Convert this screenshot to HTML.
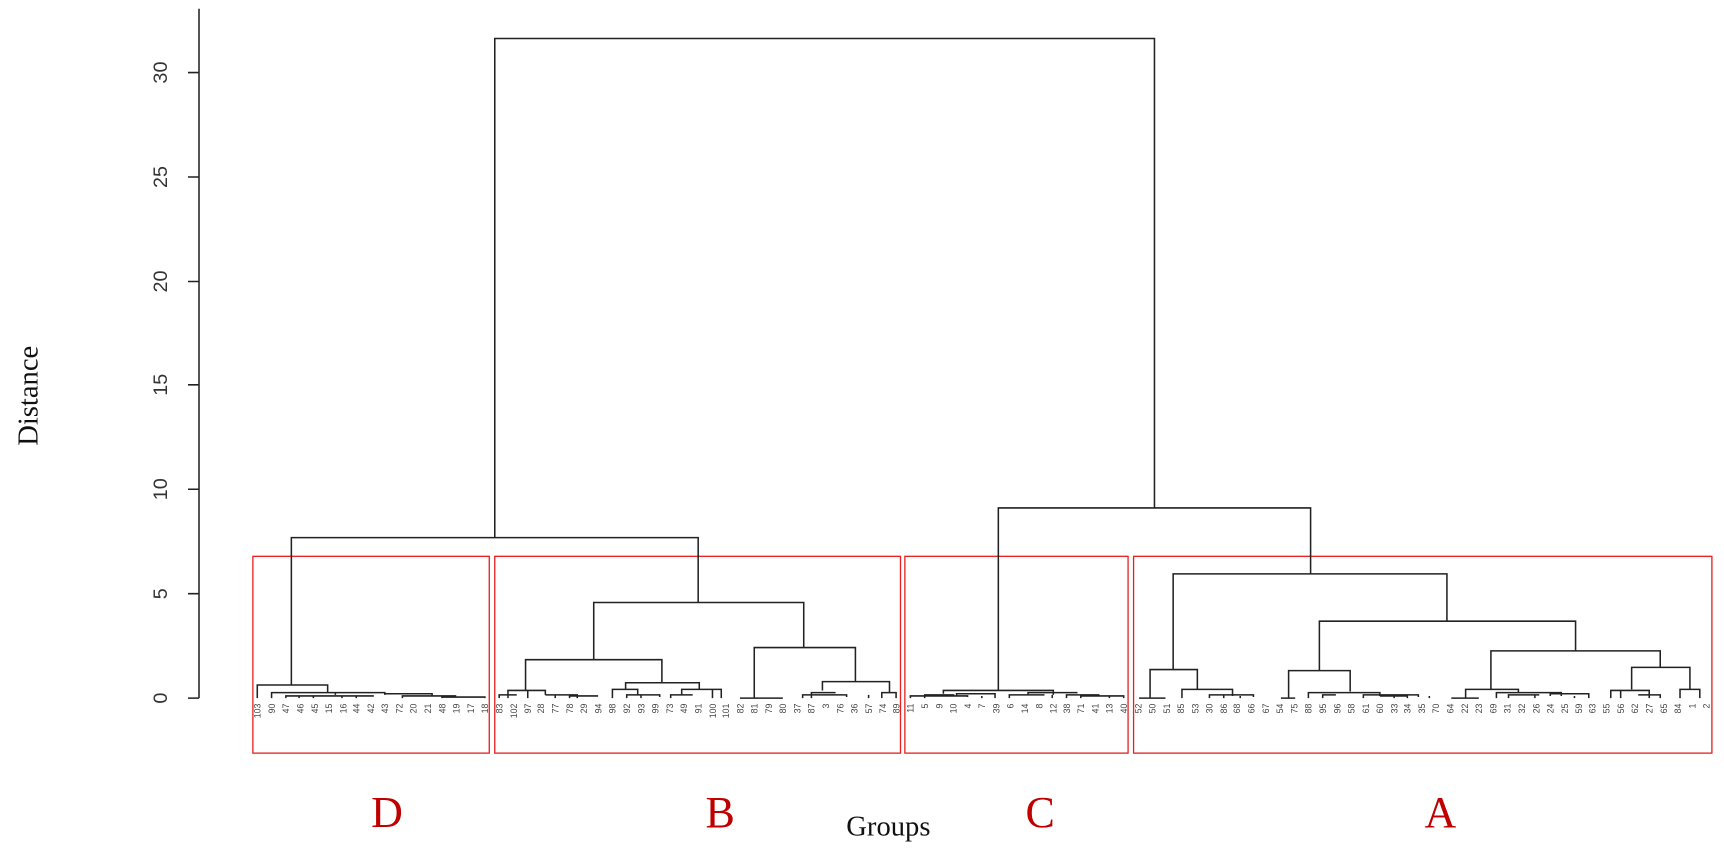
<!DOCTYPE html>
<html><head><meta charset="utf-8"><style>
html,body{margin:0;padding:0;background:#fff;}
svg{display:block;}
.t{stroke:#222;stroke-width:1.4;fill:none;}
.r{stroke:#e82020;stroke-width:1.2;fill:none;}
.lab{font-family:"Liberation Sans",sans-serif;font-size:8px;fill:#444;}
.tk{font-family:"Liberation Sans",sans-serif;font-size:18px;fill:#333;}
.g{font-family:"Liberation Serif",serif;font-size:40px;fill:#c00000;}
</style></head><body>
<svg width="1724" height="859" viewBox="0 0 1568 781.3" preserveAspectRatio="none" xmlns="http://www.w3.org/2000/svg">
<path class="t" d="M181 8V635 M171 635H181 M171 540H181 M171 445H181 M171 350H181 M171 256H181 M171 161H181 M171 66H181"/>
<g class="tk" text-anchor="middle">
<text transform="translate(152,635) rotate(-90)">0</text>
<text transform="translate(152,540) rotate(-90)">5</text>
<text transform="translate(152,445) rotate(-90)">10</text>
<text transform="translate(152,350) rotate(-90)">15</text>
<text transform="translate(152,256) rotate(-90)">20</text>
<text transform="translate(152,161) rotate(-90)">25</text>
<text transform="translate(152,66) rotate(-90)">30</text>
</g>
<text transform="translate(34,360) rotate(-90)" text-anchor="middle" style="font-family:'Liberation Serif',serif;font-size:26px;fill:#111">Distance</text>
<text x="808" y="760" text-anchor="middle" style="font-family:'Liberation Serif',serif;font-size:26px;fill:#111">Groups</text>
<g class="g" text-anchor="middle">
<text x="352" y="752">D</text><text x="655" y="752">B</text><text x="946" y="752">C</text><text x="1310" y="752">A</text>
</g>
<rect class="r" x="230" y="506" width="215" height="179"/>
<rect class="r" x="450" y="506" width="369" height="179"/>
<rect class="r" x="823" y="506" width="203" height="179"/>
<rect class="r" x="1031" y="506" width="526" height="179"/>
<path class="t" d="M450 489V35H1050V462"/>
<path class="t" d="M265 623V489H635V548"/>
<path class="t" d="M908 628V462H1192V522"/>
<path class="t" d="M234 635V623H298V630 M247 635V630H350V632 M260 635V633H340 M305 632V630 M350 632V631H393V633 M366 635V633H415 M402 635V634H441V635 M272 635V633 M285 635V633 M311 635V633 M324 635V633"/>
<path class="t" d="M540 600V548H731V589"/>
<path class="t" d="M478 628V600H602V621"/>
<path class="t" d="M462 635V628H496V632 M454 635V632H470 M480 635V628 M496 632H525V635 M505 635V632 M518 635V633H544"/>
<path class="t" d="M569 627V621H636V627 M557 635V627H580V632 M570 635V632H600V634 M583 635V632 M610 635V632H630 M620 632V627H656V635 M648 635V627"/>
<path class="t" d="M686 635V589H778V620 M673 635H712 M748 628V620H809V630 M730 635V632H770V634 M738 635V630H760 M790 635V632 M802 635V630H815V635"/>
<path class="t" d="M858 631V628H958V632 M828 635V633H880V634 M841 635V632H868 M870 633V631H905V634 M893 635V633 M905 635V634 M935 632V630H980 M918 635V632H950 M957 635V632 M970 635V632H1000 M983 635V633H1022V635 M1009 635V633"/>
<path class="t" d="M1067 609V522H1316V565"/>
<path class="t" d="M1046 635V609H1089V627 M1036 635H1060 M1075 635V627H1121V633 M1100 635V632H1140V634 M1113 635V632 M1128 635V633"/>
<path class="t" d="M1200 610V565H1433V592"/>
<path class="t" d="M1172 635V610H1228V629 M1165 635H1178 M1190 635V630H1255V633 M1203 635V632H1215 M1240 635V632H1290V634 M1255 633H1280V635 M1268 635V632 M1300 635V633"/>
<path class="t" d="M1356 627V592H1510V607"/>
<path class="t" d="M1333 635V627H1381V630 M1320 635H1345 M1361 635V630H1420V633 M1372 635V632H1400 M1410 633V631H1445V635 M1396 635V632 M1432 635V633"/>
<path class="t" d="M1484 627V607H1537V627 M1465 635V628H1500V632 M1474 635V628 M1490 632H1510V635 M1500 635V632 M1528 635V627H1546V635"/>
<g class="lab" text-anchor="end">
<text transform="translate(237,640) rotate(-90)">103</text>
<text transform="translate(250,640) rotate(-90)">90</text>
<text transform="translate(263,640) rotate(-90)">47</text>
<text transform="translate(276,640) rotate(-90)">46</text>
<text transform="translate(289,640) rotate(-90)">45</text>
<text transform="translate(302,640) rotate(-90)">15</text>
<text transform="translate(315,640) rotate(-90)">16</text>
<text transform="translate(327,640) rotate(-90)">44</text>
<text transform="translate(340,640) rotate(-90)">42</text>
<text transform="translate(353,640) rotate(-90)">43</text>
<text transform="translate(366,640) rotate(-90)">72</text>
<text transform="translate(379,640) rotate(-90)">20</text>
<text transform="translate(392,640) rotate(-90)">21</text>
<text transform="translate(405,640) rotate(-90)">48</text>
<text transform="translate(418,640) rotate(-90)">19</text>
<text transform="translate(431,640) rotate(-90)">17</text>
<text transform="translate(444,640) rotate(-90)">18</text>
<text transform="translate(457,640) rotate(-90)">83</text>
<text transform="translate(470,640) rotate(-90)">102</text>
<text transform="translate(483,640) rotate(-90)">97</text>
<text transform="translate(495,640) rotate(-90)">28</text>
<text transform="translate(508,640) rotate(-90)">77</text>
<text transform="translate(521,640) rotate(-90)">78</text>
<text transform="translate(534,640) rotate(-90)">29</text>
<text transform="translate(547,640) rotate(-90)">94</text>
<text transform="translate(560,640) rotate(-90)">98</text>
<text transform="translate(573,640) rotate(-90)">92</text>
<text transform="translate(586,640) rotate(-90)">93</text>
<text transform="translate(599,640) rotate(-90)">99</text>
<text transform="translate(612,640) rotate(-90)">73</text>
<text transform="translate(625,640) rotate(-90)">49</text>
<text transform="translate(638,640) rotate(-90)">91</text>
<text transform="translate(651,640) rotate(-90)">100</text>
<text transform="translate(663,640) rotate(-90)">101</text>
<text transform="translate(676,640) rotate(-90)">82</text>
<text transform="translate(689,640) rotate(-90)">81</text>
<text transform="translate(702,640) rotate(-90)">79</text>
<text transform="translate(715,640) rotate(-90)">80</text>
<text transform="translate(728,640) rotate(-90)">37</text>
<text transform="translate(741,640) rotate(-90)">87</text>
<text transform="translate(754,640) rotate(-90)">3</text>
<text transform="translate(767,640) rotate(-90)">76</text>
<text transform="translate(780,640) rotate(-90)">36</text>
<text transform="translate(793,640) rotate(-90)">57</text>
<text transform="translate(806,640) rotate(-90)">74</text>
<text transform="translate(818,640) rotate(-90)">89</text>
<text transform="translate(831,640) rotate(-90)">11</text>
<text transform="translate(844,640) rotate(-90)">5</text>
<text transform="translate(857,640) rotate(-90)">9</text>
<text transform="translate(870,640) rotate(-90)">10</text>
<text transform="translate(883,640) rotate(-90)">4</text>
<text transform="translate(896,640) rotate(-90)">7</text>
<text transform="translate(909,640) rotate(-90)">39</text>
<text transform="translate(922,640) rotate(-90)">6</text>
<text transform="translate(935,640) rotate(-90)">14</text>
<text transform="translate(948,640) rotate(-90)">8</text>
<text transform="translate(961,640) rotate(-90)">12</text>
<text transform="translate(973,640) rotate(-90)">38</text>
<text transform="translate(986,640) rotate(-90)">71</text>
<text transform="translate(999,640) rotate(-90)">41</text>
<text transform="translate(1012,640) rotate(-90)">13</text>
<text transform="translate(1025,640) rotate(-90)">40</text>
<text transform="translate(1038,640) rotate(-90)">52</text>
<text transform="translate(1051,640) rotate(-90)">50</text>
<text transform="translate(1064,640) rotate(-90)">51</text>
<text transform="translate(1077,640) rotate(-90)">85</text>
<text transform="translate(1090,640) rotate(-90)">53</text>
<text transform="translate(1103,640) rotate(-90)">30</text>
<text transform="translate(1116,640) rotate(-90)">86</text>
<text transform="translate(1128,640) rotate(-90)">68</text>
<text transform="translate(1141,640) rotate(-90)">66</text>
<text transform="translate(1154,640) rotate(-90)">67</text>
<text transform="translate(1167,640) rotate(-90)">54</text>
<text transform="translate(1180,640) rotate(-90)">75</text>
<text transform="translate(1193,640) rotate(-90)">88</text>
<text transform="translate(1206,640) rotate(-90)">95</text>
<text transform="translate(1219,640) rotate(-90)">96</text>
<text transform="translate(1232,640) rotate(-90)">58</text>
<text transform="translate(1245,640) rotate(-90)">61</text>
<text transform="translate(1258,640) rotate(-90)">60</text>
<text transform="translate(1271,640) rotate(-90)">33</text>
<text transform="translate(1283,640) rotate(-90)">34</text>
<text transform="translate(1296,640) rotate(-90)">35</text>
<text transform="translate(1309,640) rotate(-90)">70</text>
<text transform="translate(1322,640) rotate(-90)">64</text>
<text transform="translate(1335,640) rotate(-90)">22</text>
<text transform="translate(1348,640) rotate(-90)">23</text>
<text transform="translate(1361,640) rotate(-90)">69</text>
<text transform="translate(1374,640) rotate(-90)">31</text>
<text transform="translate(1387,640) rotate(-90)">32</text>
<text transform="translate(1400,640) rotate(-90)">26</text>
<text transform="translate(1413,640) rotate(-90)">24</text>
<text transform="translate(1426,640) rotate(-90)">25</text>
<text transform="translate(1439,640) rotate(-90)">59</text>
<text transform="translate(1451,640) rotate(-90)">63</text>
<text transform="translate(1464,640) rotate(-90)">55</text>
<text transform="translate(1477,640) rotate(-90)">56</text>
<text transform="translate(1490,640) rotate(-90)">62</text>
<text transform="translate(1503,640) rotate(-90)">27</text>
<text transform="translate(1516,640) rotate(-90)">65</text>
<text transform="translate(1529,640) rotate(-90)">84</text>
<text transform="translate(1542,640) rotate(-90)">1</text>
<text transform="translate(1555,640) rotate(-90)">2</text>
</g>
</svg>
</body></html>
